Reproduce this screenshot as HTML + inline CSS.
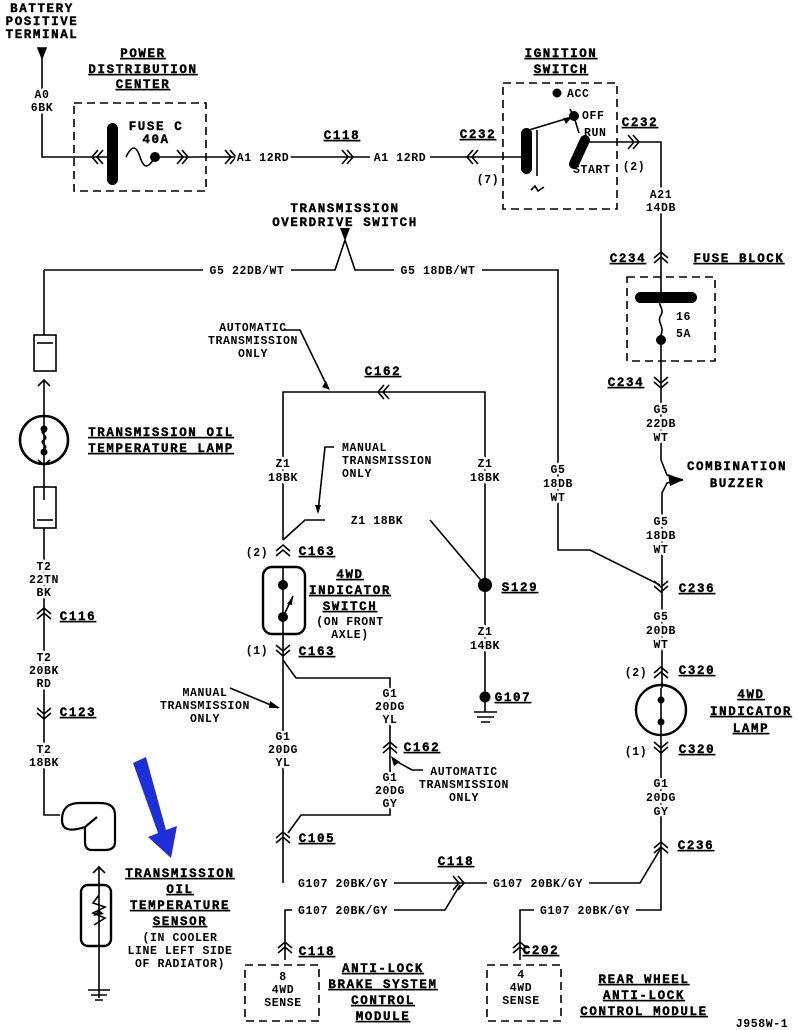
<!DOCTYPE html>
<html><head><meta charset="utf-8"><style>
html,body{margin:0;padding:0;background:#fff}
svg{display:block}
text{font-family:"Liberation Mono",monospace;fill:#000}
.t{font-weight:bold;font-size:12.5px;letter-spacing:1.6px;text-decoration:underline;stroke:#000;stroke-width:0.4px}
.h{font-weight:bold;font-size:12.5px;letter-spacing:1.6px;stroke:#000;stroke-width:0.4px}
.s{font-size:11.5px;letter-spacing:0.6px;font-weight:bold;paint-order:stroke;stroke:#fff;stroke-width:5px;stroke-linejoin:round}
.n{font-size:11.5px;letter-spacing:0.6px;font-weight:bold}
</style></head><body>
<svg width="797" height="1030" viewBox="0 0 797 1030" xmlns="http://www.w3.org/2000/svg">
<g fill="none" stroke="#000" stroke-width="1.6">
<path d="M42 55 V157 H80"/>
<path d="M38 48 L46 48 L42 58 Z" fill="#000"/>
<rect x="74" y="103" width="132" height="88" stroke-dasharray="8,5"/>
<path d="M80 157 H112"/>
<path d="M126 157 C132 145,136 145,140 157 S148 169,155 157 H220"/>
<path d="M220 157 H480"/>
<rect x="503" y="83" width="114" height="126" stroke-dasharray="8,5"/>
<path d="M480 157 H525"/>
<path d="M529 130 L572 117"/>
<path d="M574 117 L579 133"/>
<path d="M570 109 L574 117"/>
<path d="M537 130 V176 M531 190 L535 186 L538 191 L544 187"/>
<path d="M579 142 H661 V250"/>
<rect x="627" y="277" width="88" height="84" stroke-dasharray="8,5"/>
<path d="M661 250 V297"/>
<path d="M661 297 C656 305,665 308,661 315 C656 322,665 326,661 335 V460"/>
<path d="M661 460 L667 475 L683 480 L667 483 L662 493 V688"/>
<circle cx="661" cy="710" r="25" stroke-width="2.4"/>
<path d="M661 688 V735"/>
<path d="M661 735 V910 H520 V960"/>
<path d="M661 848 L640 883 H300"/>
<rect x="487" y="965" width="74" height="56" stroke-dasharray="8,5"/>
<path d="M44 270 H335 L345 240 L355 270 H558 V550 L590 550 L660 585"/>
<path d="M44 270 V335"/>
<rect x="34" y="335" width="22" height="36"/>
<path d="M37 343 H53"/>
<path d="M44 380 V500 M38 386 L44 380 L50 386 M38 460 L44 465 L50 460"/>
<circle cx="44" cy="440" r="24" stroke-width="2.6"/>
<path d="M44 430 C38 433,50 436,44 440 C38 443,50 446,44 449"/>
<rect x="34" y="487" width="22" height="41"/>
<path d="M37 520 H53"/>
<path d="M44 528 V815 H60"/>
<path d="M62 820 C62 805,72 803,80 803 H100 Q115 803,115 815 V842 Q115 850,105 850 H92 Q85 850,85 842 V827 L97 817 M85 827 C70 832,62 830,62 820" stroke-width="2.2"/>
<path d="M99 866 V998 M93 873 L99 867 L105 873"/>
<rect x="81" y="885" width="30" height="61" rx="7" stroke-width="2.4"/>
<path d="M99 895 L93 903 L105 907 L93 913 L105 918 L94 925"/>
<path d="M88 990 H110 M91 995 H107 M95 1000 H103"/>
<path d="M283 540 V392 H485 V585"/>
<path d="M283 540 L305 520 H325 M430 520 L485 585"/>
<rect x="263" y="567" width="42" height="67" rx="9" stroke-width="2.4"/>
<path d="M283 568 V633 M283 617 L293 596"/>
<path d="M485 585 V697 M474 712 H497 M477 717 H494 M481 722 H490 M485 697 V712"/>
<path d="M283 633 V883"/>
<path d="M283 660 L296 678 H390 V815 H301 L288 833"/>
<path d="M285 960 V910 H445 L460 885"/>
<rect x="245" y="965" width="74" height="56" stroke-dasharray="8,5"/>
<path d="M284 330 H300 L328 388"/>
<path d="M334 447 H325 L318 512"/>
<path d="M230 688 L278 708"/>
<path d="M423 770 H412 L394 760"/>
</g>
<g fill="#000">
<rect x="107" y="123" width="11" height="62" rx="5.5"/>
<circle cx="155" cy="157" r="5"/>
<rect x="521" y="128" width="11" height="46" rx="5.5"/>
<circle cx="557" cy="93" r="4.5"/>
<circle cx="574" cy="116" r="5"/>
<path d="M563 118 L572 117 L566 124 Z"/>
<path d="M585 140 L574 164" stroke="#000" stroke-width="10" stroke-linecap="round"/>
<rect x="635" y="292" width="62" height="11" rx="5.5"/>
<circle cx="661" cy="340" r="5"/>
<circle cx="44" cy="429" r="3.5"/><circle cx="44" cy="452" r="3.5"/>
<circle cx="661" cy="700" r="3.5"/><circle cx="661" cy="722" r="3.5"/>
<circle cx="283" cy="585" r="5"/><circle cx="283" cy="617" r="5"/>
<path d="M293 596 L287 604 L292 605 Z"/>
<circle cx="485" cy="585" r="7"/>
<circle cx="485" cy="697" r="5.5"/>
<path d="M340 228 L350 228 L345 241 Z"/>
<path d="M326 381 L330 390 L322 387 Z"/>
<path d="M315 505 L318 514 L321 505 Z"/>
<path d="M270 701 L280 708 L269 708 Z"/>
<path d="M391 756 L400 762 L394 766 Z"/>
<path d="M683 480 L668 474 L670 486 Z"/>
<path d="M99 910 L93 916 L104 914 Z"/>
<path d="M133 763 L146 757 L166 830 L177 826 L171 858 L148 837 L158 833 Z" fill="#1f2fd8"/>
</g>
<g fill="#fff">
<rect x="238" y="150" width="50" height="14"/>
<rect x="370" y="150" width="60" height="14"/>
<rect x="203" y="263" width="88" height="14"/>
<rect x="394" y="263" width="88" height="14"/>
<rect x="344" y="513" width="66" height="14"/>
<rect x="292" y="876" width="102" height="14"/>
<rect x="487" y="876" width="102" height="14"/>
<rect x="292" y="903" width="102" height="14"/>
<rect x="534" y="903" width="102" height="14"/>
</g>
<g fill="none" stroke="#000" stroke-width="1.6">
<path d="M98 150 L92 157 L98 164 M103 150 L97 157 L103 164"/>
<path d="M177 150 L183 157 L177 164 M182 150 L188 157 L182 164"/>
<path d="M225 150 L231 157 L225 164 M230 150 L236 157 L230 164"/>
<path d="M342 150 L348 157 L342 164 M347 150 L353 157 L347 164"/>
<path d="M473 150 L467 157 L473 164 M478 150 L472 157 L478 164"/>
<path d="M628 135 L634 142 L628 149 M633 135 L639 142 L633 149"/>
<path d="M654 258 L661 252 L668 258 M654 263 L661 257 L668 263"/>
<path d="M654 377 L661 383 L668 377 M654 382 L661 388 L668 382"/>
<path d="M654 581 L661 587 L668 581 M654 586 L661 592 L668 586"/>
<path d="M654 673 L661 667 L668 673 M654 678 L661 672 L668 678"/>
<path d="M654 742 L661 748 L668 742 M654 747 L661 753 L668 747"/>
<path d="M654 848 L661 842 L668 848 M654 853 L661 847 L668 853"/>
<path d="M513 948 L520 942 L527 948 M513 953 L520 947 L527 953"/>
<path d="M278 948 L285 942 L292 948 M278 953 L285 947 L292 953"/>
<path d="M276 838 L283 832 L290 838 M276 843 L283 837 L290 843"/>
<path d="M383 748 L390 742 L397 748 M383 753 L390 747 L397 753"/>
<path d="M276 551 L283 545 L290 551 M276 556 L283 550 L290 556"/>
<path d="M276 645 L283 651 L290 645 M276 650 L283 656 L290 650"/>
<path d="M384 385 L378 392 L384 399 M389 385 L383 392 L389 399"/>
<path d="M37 614 L44 608 L51 614 M37 619 L44 613 L51 619"/>
<path d="M37 708 L44 714 L51 708 M37 713 L44 719 L51 713"/>
<path d="M453 876 L459 883 L453 890 M458 876 L464 883 L458 890"/>
</g>
<text class="h" x="42" y="12" text-anchor="middle">BATTERY</text>
<text class="h" x="42" y="25" text-anchor="middle">POSITIVE</text>
<text class="h" x="42" y="38" text-anchor="middle">TERMINAL</text>
<text class="s" x="42" y="98" text-anchor="middle">A0</text>
<text class="s" x="42" y="111" text-anchor="middle">6BK</text>
<text class="t" x="143" y="57" text-anchor="middle">POWER</text>
<text class="t" x="143" y="73" text-anchor="middle">DISTRIBUTION</text>
<text class="t" x="143" y="88" text-anchor="middle">CENTER</text>
<text class="h" x="156" y="130" text-anchor="middle">FUSE C</text>
<text class="h" x="156" y="143" text-anchor="middle">40A</text>
<text class="s" x="263" y="161" text-anchor="middle">A1 12RD</text>
<text class="s" x="400" y="161" text-anchor="middle">A1 12RD</text>
<text class="t" x="342" y="139" text-anchor="middle">C118</text>
<text class="t" x="478" y="138" text-anchor="middle">C232</text>
<text class="n" x="488" y="183" text-anchor="middle">(7)</text>
<text class="t" x="561" y="57" text-anchor="middle">IGNITION</text>
<text class="t" x="561" y="73" text-anchor="middle">SWITCH</text>
<text class="n" x="567" y="97">ACC</text>
<text class="n" x="582" y="119">OFF</text>
<text class="n" x="584" y="136">RUN</text>
<text class="n" x="573" y="173">START</text>
<text class="t" x="640" y="126" text-anchor="middle">C232</text>
<text class="n" x="634" y="170" text-anchor="middle">(2)</text>
<text class="s" x="661" y="198" text-anchor="middle">A21</text>
<text class="s" x="661" y="211" text-anchor="middle">14DB</text>
<text class="t" x="628" y="262" text-anchor="middle">C234</text>
<text class="t" x="739" y="262" text-anchor="middle">FUSE BLOCK</text>
<text class="n" x="676" y="320">16</text>
<text class="n" x="676" y="337">5A</text>
<text class="t" x="626" y="386" text-anchor="middle">C234</text>
<text class="s" x="661" y="413" text-anchor="middle">G5</text>
<text class="s" x="661" y="427" text-anchor="middle">22DB</text>
<text class="s" x="661" y="441" text-anchor="middle">WT</text>
<text class="h" x="737" y="470" text-anchor="middle">COMBINATION</text>
<text class="h" x="737" y="487" text-anchor="middle">BUZZER</text>
<text class="s" x="661" y="525" text-anchor="middle">G5</text>
<text class="s" x="661" y="539" text-anchor="middle">18DB</text>
<text class="s" x="661" y="553" text-anchor="middle">WT</text>
<text class="t" x="697" y="592" text-anchor="middle">C236</text>
<text class="s" x="661" y="620" text-anchor="middle">G5</text>
<text class="s" x="661" y="634" text-anchor="middle">20DB</text>
<text class="s" x="661" y="648" text-anchor="middle">WT</text>
<text class="n" x="636" y="676" text-anchor="middle">(2)</text>
<text class="t" x="697" y="674" text-anchor="middle">C320</text>
<text class="t" x="751" y="698" text-anchor="middle">4WD</text>
<text class="t" x="751" y="715" text-anchor="middle">INDICATOR</text>
<text class="t" x="751" y="732" text-anchor="middle">LAMP</text>
<text class="n" x="636" y="755" text-anchor="middle">(1)</text>
<text class="t" x="697" y="753" text-anchor="middle">C320</text>
<text class="s" x="661" y="787" text-anchor="middle">G1</text>
<text class="s" x="661" y="801" text-anchor="middle">20DG</text>
<text class="s" x="661" y="815" text-anchor="middle">GY</text>
<text class="t" x="696" y="849" text-anchor="middle">C236</text>
<text class="h" x="345" y="212" text-anchor="middle">TRANSMISSION</text>
<text class="h" x="345" y="226" text-anchor="middle">OVERDRIVE SWITCH</text>
<text class="s" x="247" y="274" text-anchor="middle">G5 22DB/WT</text>
<text class="s" x="438" y="274" text-anchor="middle">G5 18DB/WT</text>
<text class="s" x="558" y="473" text-anchor="middle">G5</text>
<text class="s" x="558" y="487" text-anchor="middle">18DB</text>
<text class="s" x="558" y="501" text-anchor="middle">WT</text>
<text class="t" x="161" y="436" text-anchor="middle">TRANSMISSION OIL</text>
<text class="t" x="161" y="452" text-anchor="middle">TEMPERATURE LAMP</text>
<text class="s" x="44" y="570" text-anchor="middle">T2</text>
<text class="s" x="44" y="583" text-anchor="middle">22TN</text>
<text class="s" x="44" y="596" text-anchor="middle">BK</text>
<text class="t" x="78" y="620" text-anchor="middle">C116</text>
<text class="s" x="44" y="661" text-anchor="middle">T2</text>
<text class="s" x="44" y="674" text-anchor="middle">20BK</text>
<text class="s" x="44" y="687" text-anchor="middle">RD</text>
<text class="t" x="78" y="716" text-anchor="middle">C123</text>
<text class="s" x="44" y="753" text-anchor="middle">T2</text>
<text class="s" x="44" y="766" text-anchor="middle">18BK</text>
<text class="t" x="180" y="877" text-anchor="middle">TRANSMISSION</text>
<text class="t" x="180" y="893" text-anchor="middle">OIL</text>
<text class="t" x="180" y="909" text-anchor="middle">TEMPERATURE</text>
<text class="t" x="180" y="925" text-anchor="middle">SENSOR</text>
<text class="n" x="180" y="941" text-anchor="middle">(IN COOLER</text>
<text class="n" x="180" y="954" text-anchor="middle">LINE LEFT SIDE</text>
<text class="n" x="180" y="967" text-anchor="middle">OF RADIATOR)</text>
<text class="n" x="253" y="331" text-anchor="middle">AUTOMATIC</text>
<text class="n" x="253" y="344" text-anchor="middle">TRANSMISSION</text>
<text class="n" x="253" y="357" text-anchor="middle">ONLY</text>
<text class="t" x="383" y="375" text-anchor="middle">C162</text>
<text class="s" x="283" y="467" text-anchor="middle">Z1</text>
<text class="s" x="283" y="481" text-anchor="middle">18BK</text>
<text class="s" x="485" y="467" text-anchor="middle">Z1</text>
<text class="s" x="485" y="481" text-anchor="middle">18BK</text>
<text class="n" x="342" y="451">MANUAL</text>
<text class="n" x="342" y="464">TRANSMISSION</text>
<text class="n" x="342" y="477">ONLY</text>
<text class="s" x="377" y="524" text-anchor="middle">Z1 18BK</text>
<text class="n" x="257" y="556" text-anchor="middle">(2)</text>
<text class="t" x="317" y="555" text-anchor="middle">C163</text>
<text class="t" x="350" y="578" text-anchor="middle">4WD</text>
<text class="t" x="350" y="594" text-anchor="middle">INDICATOR</text>
<text class="t" x="350" y="610" text-anchor="middle">SWITCH</text>
<text class="n" x="350" y="625" text-anchor="middle">(ON FRONT</text>
<text class="n" x="350" y="638" text-anchor="middle">AXLE)</text>
<text class="n" x="257" y="654" text-anchor="middle">(1)</text>
<text class="t" x="317" y="655" text-anchor="middle">C163</text>
<text class="t" x="520" y="591" text-anchor="middle">S129</text>
<text class="s" x="485" y="635" text-anchor="middle">Z1</text>
<text class="s" x="485" y="649" text-anchor="middle">14BK</text>
<text class="t" x="513" y="701" text-anchor="middle">G107</text>
<text class="n" x="205" y="696" text-anchor="middle">MANUAL</text>
<text class="n" x="205" y="709" text-anchor="middle">TRANSMISSION</text>
<text class="n" x="205" y="722" text-anchor="middle">ONLY</text>
<text class="s" x="283" y="740" text-anchor="middle">G1</text>
<text class="s" x="283" y="753" text-anchor="middle">20DG</text>
<text class="s" x="283" y="766" text-anchor="middle">YL</text>
<text class="s" x="390" y="697" text-anchor="middle">G1</text>
<text class="s" x="390" y="710" text-anchor="middle">20DG</text>
<text class="s" x="390" y="723" text-anchor="middle">YL</text>
<text class="t" x="422" y="751" text-anchor="middle">C162</text>
<text class="n" x="464" y="775" text-anchor="middle">AUTOMATIC</text>
<text class="n" x="464" y="788" text-anchor="middle">TRANSMISSION</text>
<text class="n" x="464" y="801" text-anchor="middle">ONLY</text>
<text class="s" x="390" y="781" text-anchor="middle">G1</text>
<text class="s" x="390" y="794" text-anchor="middle">20DG</text>
<text class="s" x="390" y="807" text-anchor="middle">GY</text>
<text class="t" x="317" y="842" text-anchor="middle">C105</text>
<text class="t" x="456" y="865" text-anchor="middle">C118</text>
<text class="s" x="343" y="887" text-anchor="middle">G107 20BK/GY</text>
<text class="s" x="538" y="887" text-anchor="middle">G107 20BK/GY</text>
<text class="s" x="343" y="914" text-anchor="middle">G107 20BK/GY</text>
<text class="s" x="585" y="914" text-anchor="middle">G107 20BK/GY</text>
<text class="t" x="317" y="955" text-anchor="middle">C118</text>
<text class="t" x="541" y="954" text-anchor="middle">C202</text>
<text class="n" x="283" y="980" text-anchor="middle">8</text>
<text class="n" x="283" y="993" text-anchor="middle">4WD</text>
<text class="n" x="283" y="1006" text-anchor="middle">SENSE</text>
<text class="n" x="521" y="978" text-anchor="middle">4</text>
<text class="n" x="521" y="991" text-anchor="middle">4WD</text>
<text class="n" x="521" y="1004" text-anchor="middle">SENSE</text>
<text class="t" x="383" y="972" text-anchor="middle">ANTI-LOCK</text>
<text class="t" x="383" y="988" text-anchor="middle">BRAKE SYSTEM</text>
<text class="t" x="383" y="1004" text-anchor="middle">CONTROL</text>
<text class="t" x="383" y="1020" text-anchor="middle">MODULE</text>
<text class="t" x="644" y="983" text-anchor="middle">REAR WHEEL</text>
<text class="t" x="644" y="999" text-anchor="middle">ANTI-LOCK</text>
<text class="t" x="644" y="1015" text-anchor="middle">CONTROL MODULE</text>
<text class="n" x="762" y="1027" text-anchor="middle">J958W-1</text>
</svg>
</body></html>
